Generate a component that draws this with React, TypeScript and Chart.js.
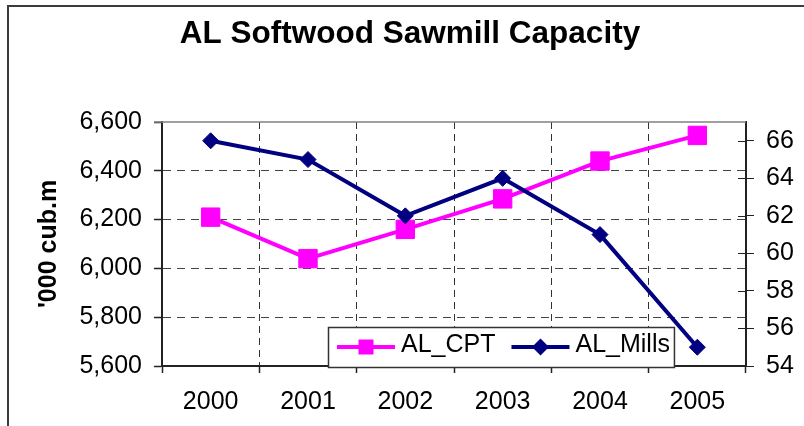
import React, { useEffect, useRef } from 'react';
import { Chart, registerables } from 'chart.js';

Chart.register(...registerables);

const FONT = "'Liberation Sans', Arial, Helvetica, sans-serif";

const categories = ['2000', '2001', '2002', '2003', '2004', '2005'];
const cptValues = [6210, 6040, 6160, 6285, 6440, 6545];
const millsValues = [66, 65, 62, 64, 61, 55];
const leftTicks = [5600, 5800, 6000, 6200, 6400, 6600];
const rightTicks = [54, 56, 58, 60, 62, 64, 66];
const rightMin = 54;
const rightMax = 67;
const seriesNames = ['AL_CPT', 'AL_Mills'];
const seriesColors = ['#FF00FF', '#000080'];
const chartTitle = 'AL Softwood Sawmill Capacity';
const leftAxisTitle = "'000 cub.m";

export default function App() {
  const ref = useRef<HTMLCanvasElement>(null);

  useEffect(() => {
    const canvas = ref.current;
    if (!canvas) return;

    const framePlugin = {
      id: 'frame',
      beforeDraw(chart: any) {
        const { ctx, width, height } = chart;
        ctx.save();
        ctx.fillStyle = '#ffffff';
        ctx.fillRect(0, 0, width, height);
        ctx.strokeStyle = '#3c3c3c';
        ctx.lineWidth = 2;
        ctx.beginPath();
        ctx.moveTo(8, height);
        ctx.lineTo(8, 6);
        ctx.lineTo(width, 6);
        ctx.stroke();
        ctx.restore();
      },
      beforeDatasetsDraw(chart: any) {
        const { ctx, chartArea: ca } = chart;
        ctx.save();
        ctx.strokeStyle = '#808080';
        ctx.lineWidth = 1.5;
        ctx.beginPath();
        ctx.moveTo(ca.left - 8, ca.top);
        ctx.lineTo(ca.right, ca.top);
        ctx.stroke();
        const y1 = chart.scales.y1;
        ctx.strokeStyle = '#222';
        ctx.lineWidth = 1;
        ctx.beginPath();
        for (const t of y1.ticks) {
          const py = Math.round(y1.getPixelForValue(t.value)) + 0.5;
          ctx.moveTo(ca.right - 8, py);
          ctx.lineTo(ca.right, py);
        }
        ctx.stroke();
        ctx.restore();
      },
    };

    const legendPlugin = {
      id: 'insetLegend',
      afterDraw(chart: any) {
        const { ctx, chartArea: ca } = chart;
        ctx.save();
        ctx.font = `25px ${FONT}`;
        const items = chart.data.datasets.map((ds: any) => ({
          label: ds.label as string,
          color: ds.borderColor as string,
          style: ds.pointStyle as string,
          w: ctx.measureText(ds.label).width,
        }));
        const lineLen = 58;
        const padL = 9;
        const gapText = 6;
        const gapItem = 16;
        const padR = 4;
        let boxW = padL + padR;
        items.forEach((it: any, i: number) => {
          boxW += lineLen + gapText + it.w + (i > 0 ? gapItem : 0);
        });
        const boxH = 40;
        const boxL = Math.round(ca.left + 166);
        const boxB = Math.round(ca.bottom + 1);
        const boxT = boxB - boxH;
        ctx.fillStyle = '#ffffff';
        ctx.fillRect(boxL, boxT, boxW, boxH);
        ctx.strokeStyle = '#333';
        ctx.lineWidth = 1.5;
        ctx.strokeRect(boxL + 0.5, boxT + 0.5, boxW, boxH);
        let x = boxL + padL;
        const ly = boxT + 20;
        items.forEach((it: any) => {
          ctx.strokeStyle = it.color;
          ctx.fillStyle = it.color;
          ctx.lineWidth = 4;
          ctx.beginPath();
          ctx.moveTo(x, ly);
          ctx.lineTo(x + lineLen, ly);
          ctx.stroke();
          const cx = x + lineLen / 2;
          if (it.style === 'rect') {
            ctx.fillRect(cx - 7.5, ly - 7.5, 15, 15);
          } else {
            ctx.beginPath();
            ctx.moveTo(cx - 8.5, ly);
            ctx.lineTo(cx, ly - 8.5);
            ctx.lineTo(cx + 8.5, ly);
            ctx.lineTo(cx, ly + 8.5);
            ctx.closePath();
            ctx.fill();
          }
          ctx.fillStyle = '#000';
          ctx.textBaseline = 'middle';
          ctx.textAlign = 'left';
          ctx.fillText(it.label, x + lineLen + gapText, boxT + 18.5);
          x += lineLen + gapText + it.w + gapItem;
        });
        ctx.restore();
      },
    };

    const tickFont = { family: FONT, size: 25 };

    const chart = new Chart(canvas, {
      type: 'line',
      data: {
        labels: categories,
        datasets: [
          {
            label: seriesNames[0],
            data: cptValues,
            yAxisID: 'y',
            borderColor: seriesColors[0],
            backgroundColor: seriesColors[0],
            borderWidth: 4,
            pointStyle: 'rect',
            pointRadius: 13,
            pointBorderWidth: 1,
            pointBackgroundColor: seriesColors[0],
            pointBorderColor: seriesColors[0],
            tension: 0,
            order: 2,
          },
          {
            label: seriesNames[1],
            data: millsValues,
            yAxisID: 'y1',
            borderColor: seriesColors[1],
            backgroundColor: seriesColors[1],
            borderWidth: 4,
            pointStyle: 'rectRot',
            pointRadius: 8,
            pointBorderWidth: 1,
            pointBackgroundColor: seriesColors[1],
            pointBorderColor: seriesColors[1],
            tension: 0,
            order: 1,
          },
        ],
      },
      options: {
        responsive: false,
        animation: false,
        devicePixelRatio: 1,
        layout: { padding: { left: 16, right: 0, top: 0, bottom: 0 } },
        plugins: {
          legend: { display: false },
          tooltip: { enabled: false },
          title: {
            display: true,
            text: chartTitle,
            color: '#000',
            font: { family: FONT, size: 31.5, weight: 'bold' },
            padding: { top: 15, bottom: 69.2 },
          },
        },
        scales: {
          x: {
            offset: true,
            grid: {
              offset: true,
              color: (c: any) => (c.type === 'tick' && c.index > 0 ? '#333' : 'rgba(0,0,0,0)'),
              tickColor: '#222',
              tickLength: 7,
              lineWidth: 1,
              tickWidth: 1.5,
              tickBorderDash: [],
            },
            border: { display: true, color: '#222', width: 2, dash: [7, 5] },
            ticks: { color: '#000', font: tickFont, padding: 14, maxRotation: 0, autoSkip: false },
            afterFit: (s: any) => { s.height = 60; },
          },
          y: {
            position: 'left',
            min: leftTicks[0],
            max: leftTicks[leftTicks.length - 1],
            afterBuildTicks: (s: any) => { s.ticks = leftTicks.map((v) => ({ value: v })); },
            grid: {
              color: (c: any) =>
                c.type === 'tick' && c.index > 0 && c.index < leftTicks.length - 1 ? '#444' : 'rgba(0,0,0,0)',
              tickColor: '#222',
              tickLength: 8,
              lineWidth: 1,
              tickWidth: 1.5,
              tickBorderDash: [],
            },
            border: { display: true, color: '#222', width: 2, dash: [8, 6] },
            ticks: {
              color: '#000',
              font: tickFont,
              padding: 12,
              callback: (v: any) => Number(v).toLocaleString('en-US'),
            },
            title: {
              display: true,
              text: leftAxisTitle,
              color: '#000',
              font: { family: FONT, size: 25, weight: 'bold' },
              padding: { top: 18, bottom: 0 },
            },
            afterFit: (s: any) => { s.width = 146; },
          },
          y1: {
            position: 'right',
            min: rightMin,
            max: rightMax,
            afterBuildTicks: (s: any) => { s.ticks = rightTicks.map((v) => ({ value: v })); },
            grid: {
              drawOnChartArea: false,
              color: '#222',
              tickColor: '#222',
              tickLength: 8,
              tickWidth: 1,
            },
            border: { display: true, color: '#222', width: 2 },
            ticks: { color: '#000', font: tickFont, padding: 12 },
            afterFit: (s: any) => { s.width = 58; },
          },
        },
      },
      plugins: [framePlugin, legendPlugin],
    });

    return () => chart.destroy();
  }, []);

  return (
    <div style={{ position: 'absolute', left: 0, top: 0, width: 804, height: 426 }}>
      <canvas ref={ref} width={804} height={426} style={{ display: 'block' }} />
    </div>
  );
}
